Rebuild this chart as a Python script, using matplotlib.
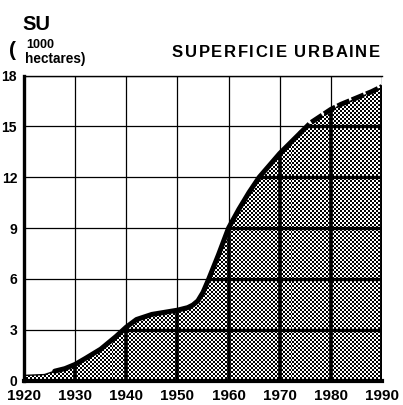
import numpy as np
import matplotlib
matplotlib.use('Agg')
import matplotlib.pyplot as plt
from matplotlib.patches import Polygon

plt.rcParams['font.family'] = ['Liberation Sans', 'DejaVu Sans']
plt.rcParams['font.weight'] = 'bold'

# ---- data ----
years = [1920, 1924, 1926, 1928, 1930, 1932, 1935, 1938, 1940, 1942, 1945, 1948,
         1950, 1952, 1953, 1954, 1955, 1956, 1958, 1960, 1962, 1964, 1966, 1968,
         1970, 1972, 1974, 1976, 1978, 1980, 1982, 1984, 1986, 1988, 1990]
surface = [0.3, 0.35, 0.55, 0.7, 0.95, 1.3, 1.85, 2.6, 3.15, 3.6, 3.9, 4.05,
           4.15, 4.3, 4.45, 4.7, 5.2, 5.9, 7.4, 9.0, 10.1, 11.1, 12.0, 12.7,
           13.4, 14.0, 14.6, 15.2, 15.6, 16.0, 16.3, 16.55, 16.8, 17.05, 17.35]
solid_start, dash_start = 1926, 1974
x_ticks = [1920, 1930, 1940, 1950, 1960, 1970, 1980, 1990]
x_labels = ['1920', '1930', '1940', '1950', '1960', '1970', '1980', '1990']
y_ticks = [0, 3, 6, 9, 12, 15, 18]
y_labels = ['0', '3', '6', '9', '12', '15', '18']
title = 'SUPERFICIE URBAINE'

yrs = np.array(years, dtype=float)
val = np.array(surface, dtype=float)

W, H, DPI = 403, 405, 100
fig = plt.figure(figsize=(W / DPI, H / DPI), dpi=DPI)
L, R, T, B = 24, 382, 75.5, 380.5
ax = fig.add_axes([L / W, 1 - B / H, (R - L) / W, (B - T) / H])
ax.set_xlim(1920, 1990)
ax.set_ylim(0, 18)

# thin grid everywhere
for x in x_ticks:
    ax.plot([x, x], [0, 18], color='black', lw=0.9, zorder=1)
for y in y_ticks:
    ax.plot([1920, 1990], [y, y], color='black', lw=0.9, zorder=1)

# filled area with halftone checker texture
poly_pts = np.column_stack([np.r_[yrs, yrs[-1], yrs[0]], np.r_[val, 0, 0]])
poly = Polygon(poly_pts, closed=True, facecolor='none', edgecolor='none',
               transform=ax.transData)
ax.add_patch(poly)
pw, ph = int(R - L), int(B - T)
cell = 2
jj, ii = np.meshgrid(np.arange(pw // cell + 1), np.arange(ph // cell + 1))
checker = ((ii + jj) % 2).astype(float)
img = ax.imshow(checker, cmap='gray', vmin=0, vmax=1, interpolation='nearest',
                extent=[1920, 1990, 0, 18], aspect='auto', zorder=2)
img.set_clip_path(poly)

# thick grid inside the filled area
for x in x_ticks:
    ln, = ax.plot([x, x], [0, 18], color='black', lw=2.6, zorder=3)
    ln.set_clip_path(poly)
for y in y_ticks:
    ln, = ax.plot([1920, 1990], [y, y], color='black', lw=2.4, zorder=3)
    ln.set_clip_path(poly)
ax.plot([yrs[-1], yrs[-1]], [0, val[-1]], color='black', lw=2.6, zorder=3)

# curve
m0 = yrs <= solid_start
m1 = (yrs >= solid_start) & (yrs <= dash_start)
m2 = yrs >= dash_start
ax.plot(yrs[m0], val[m0], color='black', lw=1.0, zorder=4)
ax.plot(yrs[m1], val[m1], color='black', lw=3.6, zorder=4, solid_capstyle='round')
ax.plot(yrs[m2], val[m2], color='black', lw=3.6, zorder=4,
        linestyle=(0, (2.6, 0.5)), dash_capstyle='butt')

# spines
ax.spines['right'].set_visible(False)
ax.spines['top'].set_linewidth(1.0)
ax.spines['left'].set_linewidth(2.4)
ax.spines['bottom'].set_linewidth(3.0)
for s in ax.spines.values():
    s.set_zorder(5)

ax.set_xticks(x_ticks)
ax.set_xticklabels(x_labels, fontsize=11, fontweight='bold')
ax.set_yticks(y_ticks)
ax.set_yticklabels(y_labels, fontsize=10, fontweight='bold')
ax.tick_params(axis='both', length=0)
ax.tick_params(axis='x', pad=6)
ax.tick_params(axis='y', pad=5)

# header texts
fig.text(22.5 / W, 1 - 30 / H, 'SU', fontsize=14.5, fontweight='bold', ha='left', va='baseline')
fig.text(8.5 / W, 1 - 56 / H, '(', fontsize=15, fontweight='bold', ha='left', va='baseline')
fig.text(26.5 / W, 1 - 48 / H, '1000', fontsize=9, fontweight='bold', ha='left', va='baseline')
fig.text(24.5 / W, 1 - 63 / H, 'hectares)', fontsize=9.8, fontweight='bold', ha='left', va='baseline')

# spaced title
fig.canvas.draw()
renderer = fig.canvas.get_renderer()
fs = 12
x0, xend, ybase = 172, 380, 57
def width(s):
    if not s:
        return 0.0
    t = fig.text(0, 0, s.replace(' ', '\u00a0'), fontsize=fs, fontweight='bold')
    w = t.get_window_extent(renderer).width
    t.remove()
    return w
full = width(title)
gap = (xend - x0 - full) / (len(title) - 1)
for i, ch in enumerate(title):
    if ch == ' ':
        continue
    px = x0 + width(title[:i]) + i * gap
    fig.text(px / W, 1 - ybase / H, ch, fontsize=fs, fontweight='bold',
             ha='left', va='baseline')

fig.savefig('out.png', dpi=DPI)
